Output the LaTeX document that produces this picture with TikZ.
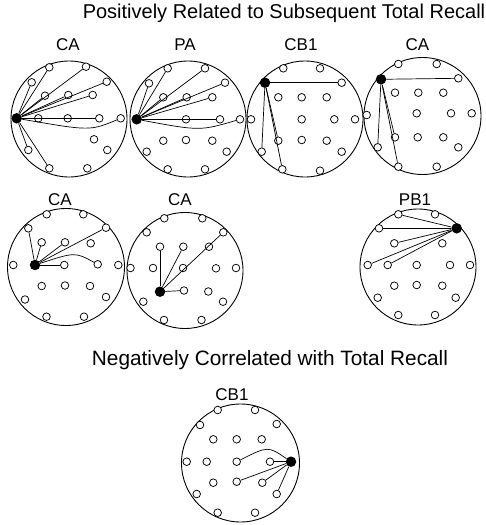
\documentclass[tikz,border=0pt]{standalone}
\usepackage{fontspec}
\setmainfont{Liberation Sans}
\begin{document}
\begin{tikzpicture}[x=1pt,y=-1pt,
  head/.style={circle, draw, line width=0.9pt, inner sep=0pt},
  el/.style={circle, draw, line width=0.75pt, inner sep=0pt, minimum size=7.6pt, fill=white},
  src/.style={circle, fill=black, inner sep=0pt, minimum size=10.5pt},
  conn/.style={line width=0.7pt},
  lbl/.style={font=\fontsize{17}{19}\selectfont, anchor=base, inner sep=0pt},
  ttl/.style={font=\fontsize{20}{23}\selectfont, anchor=base, inner sep=0pt}]
\useasboundingbox (0,0) rectangle (485,525);

% titles and labels
\node[ttl] (t1) at (284,18.5) {Positively Related to Subsequent Total Recall};
\node[ttl, font=\fontsize{20.8}{23}\selectfont] (t2) at (270,365) {Negatively Correlated with Total Recall};
\node[lbl] (l1) at (68,50) {CA};
\node[lbl] (l2) at (185,50) {PA};
\node[lbl] (l3) at (301,50) {CB1};
\node[lbl] (l4) at (417.5,50) {CA};
\node[lbl] (l5) at (60,205) {CA};
\node[lbl] (l6) at (180,205) {CA};
\node[lbl] (l7) at (415,205) {PB1};
\node[lbl] (l8) at (232,400) {CB1};

% heads
\node[head, minimum size=116pt] (H1) at (69,119) {};
\node[head, minimum size=116pt] (H2) at (188,119) {};
\node[head, minimum size=116pt] (H3) at (305,119) {};
\node[head, minimum size=117pt] (H4) at (422.5,116) {};
\node[head, minimum size=117pt] (H5) at (66,267) {};
\node[head, minimum size=116pt] (H6) at (185,270.5) {};
\node[head, minimum size=116pt] (H7) at (418,267) {};
\node[head, minimum size=118pt] (H8) at (240.5,463) {};

% head 1
\foreach \n/\x/\y in {1/49.3/67.3,2/86/66.7,3/31.7/82.3,4/106.7/81.7,5/45/95.7,6/68.3/95,7/92.7/95,8/38.3/118.3,9/67.7/118.3,10/99.3/118.3,11/120.7/118.3,12/94/139.3,13/107.3/150,14/28.3/150,15/49.3/168.3,16/87.3/168.3}
  \node[el] (A\n) at (\x,\y) {};
\node[src] (A0) at (16.7,118.3) {};
\foreach \n in {1,2,3,4,5,6,7,8,9,10,14,15} \draw[conn] (A0) -- (A\n);
\draw[conn] (A0) .. controls (90,131) .. (A11);

% head 2
\foreach \n/\x/\y in {1/167.7/68.3,2/205/68.3,3/149/83.3,4/225/82.7,5/163.3/97.3,6/186.7/97.3,7/212.3/97.3,8/186/119.3,9/220/119.3,10/240/119.3,11/163.3/140.7,12/186/140,13/212.3/140.7,14/146.7/151.7,15/226.7/151.7,16/167.7/169.3,17/205/169.3}
  \node[el] (B\n) at (\x,\y) {};
\node[src] (B0) at (136.7,119.3) {};
\foreach \n in {1,2,3,4,5,6,7,8,9} \draw[conn] (B0) -- (B\n);
\draw[conn] (B0) .. controls (200,131) .. (B10);

% head 3
\foreach \n/\x/\y in {1/283.3/68.3,2/320/68.3,3/341.7/82.7,4/278.3/97.3,5/301.7/97.3,6/326.7/97.3,7/251/119.3,8/301.7/119.3,9/334.3/119.3,10/355/119.3,11/278.3/140.7,12/301.7/140,13/326.7/140.7,14/261.7/151.7,15/341.7/151.7,16/282.3/169.3,17/320/170.7}
  \node[el] (C\n) at (\x,\y) {};
\node[src] (C0) at (265,82.7) {};
\foreach \n in {3,11,14,16} \draw[conn] (C0) -- (C\n);

% head 4
\foreach \n/\x/\y in {1/398.3/64,2/436.7/64,3/458.3/78.3,4/395/92.7,5/418.3/92.7,6/443.3/92.7,7/366.7/115,8/416.7/113.3,9/451/113.3,10/471.7/113.3,11/395/137.3,12/417.7/137.3,13/443.3/137.3,14/377.7/147.3,15/458.3/147.3,16/398.3/166.7,17/436.7/166.7}
  \node[el] (D\n) at (\x,\y) {};
\node[src] (D0) at (381,79.3) {};
\foreach \n in {3,11,14,16} \draw[conn] (D0) -- (D\n);

% head 5
\foreach \n/\x/\y in {1/46.7/214.3,2/83.3/214.3,3/28.3/228.3,4/106/227.7,5/41.7/242.3,6/65/242.3,7/90.7/243.3,8/13.3/265,9/64.3/265,10/97.7/264.3,11/118.3/265,12/41.7/286,13/65/285.5,14/90/286,15/25/299.5,16/106/297,17/46.5/316.7,18/84/316.7}
  \node[el] (E\n) at (\x,\y) {};
\node[src] (E0) at (35,265) {};
\foreach \n in {3,4,5,6,9} \draw[conn] (E0) -- (E\n);
\draw[conn] (E0) .. controls (75,252) .. (E10);

% head 6
\foreach \n/\x/\y in {1/164.3/218.3,2/202.3/218.3,3/146.7/232.3,4/223.3/232.3,5/160/246.7,6/183.3/246.7,7/209/246.7,8/130.5/268,9/153/268,10/183/268,11/216/268.3,12/236/268,13/184/290.5,14/208.3/291.5,15/143.3/301.7,16/223/301.7,17/164/320,18/201.5/320}
  \node[el] (F\n) at (\x,\y) {};
\node[src] (F0) at (160,291.7) {};
\foreach \n in {4,5,6,13} \draw[conn] (F0) -- (F\n);

% head 7
\foreach \n/\x/\y in {1/398.3/214.3,2/435/214.3,3/379/228.3,4/394.3/243.3,5/442.3/243.3,6/367.7/265,7/387.7/265,8/416.7/265,9/450/265,10/470/265,11/394.3/285.7,12/416.7/285,13/442.3/285.7,14/377.7/297.7,15/455.7/297.7,16/398.3/315,17/435/315}
  \node[el] (G\n) at (\x,\y) {};
\node[src] (G0) at (456.7,228.3) {};
\foreach \n in {1,3,4,6,7} \draw[conn] (G0) -- (G\n);

% head 8
\foreach \n/\x/\y in {1/217.7/410,2/255/410,3/200/425,4/276.7/424,5/213.3/439.3,6/236.7/439.3,7/261.7/439.3,8/186.7/461.7,9/206.7/461.7,10/236.7/461.7,11/270/461.7,12/213.3/482.7,13/236.7/481.7,14/262.3/482.7,15/196.7/494,16/276.7/494,17/217.7/512.7,18/255/512.7}
  \node[el] (K\n) at (\x,\y) {};
\node[src] (K0) at (291,461.7) {};
\foreach \n in {11,13,14,16} \draw[conn] (K0) -- (K\n);
\draw[conn] (K0) .. controls (268,446) .. (K10);
\end{tikzpicture}
\end{document}
